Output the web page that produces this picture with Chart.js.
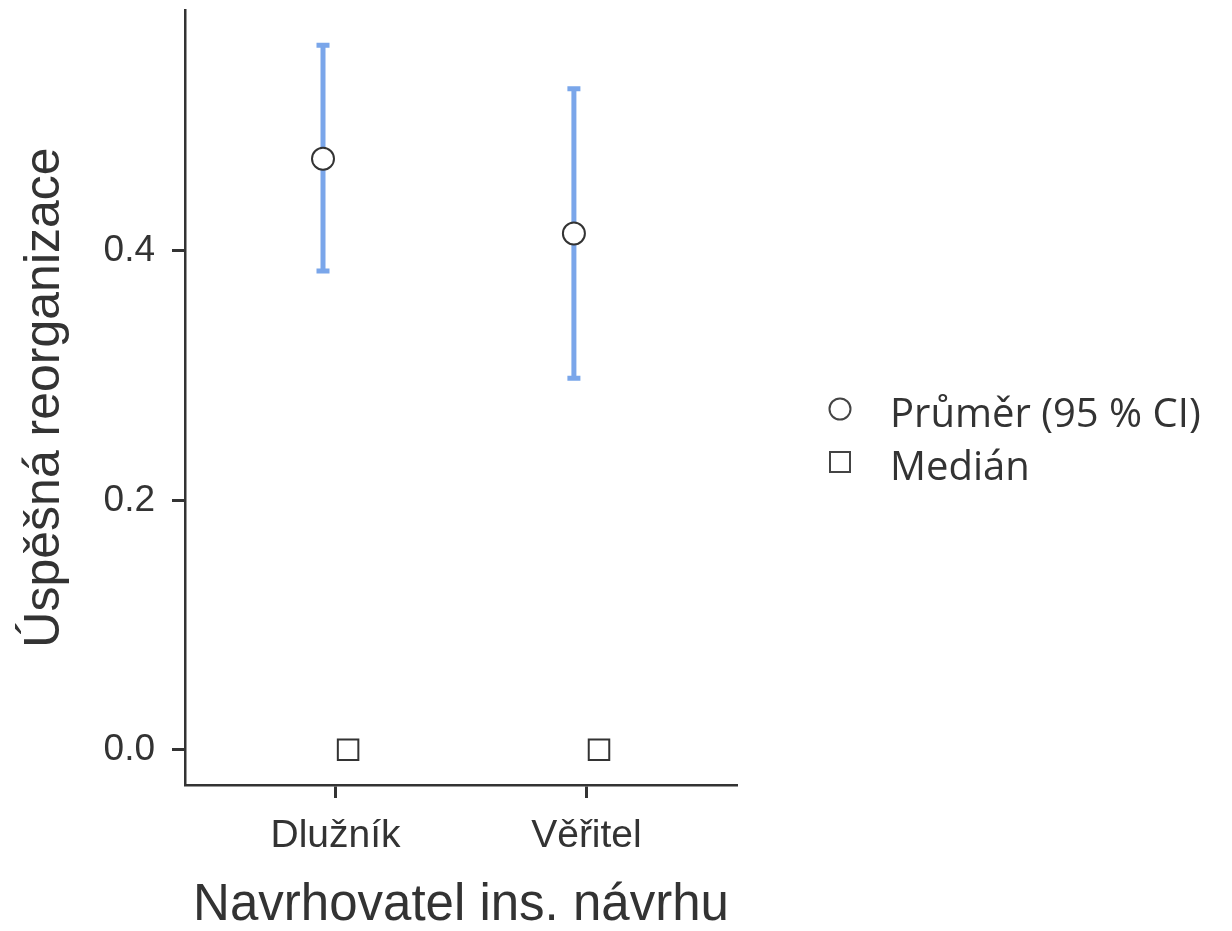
<!DOCTYPE html>
<html>
<head>
<meta charset="utf-8">
<script src="https://cdn.jsdelivr.net/npm/chart.js@4"></script>
<style>
  html, body { margin: 0; padding: 0; background: #fff; }
  #wrap { width: 1232px; height: 931px; }
</style>
</head>
<body>
<div id="wrap"><canvas id="chart" width="1232" height="931"></canvas></div>
<script>
// data
const categories = ['Dlužník', 'Věřitel'];
const means = [0.474, 0.414];
const ciLow = [0.384, 0.298];
const ciHigh = [0.565, 0.530];
const medians = [0, 0];
const yTicks = [0, 0.2, 0.4];

const seriesLabels = ['Průměr (95 % CI)', 'Medián'];
const dodge = 0.05;
const ink = '#333333';
const barColor = '#7aa6ea';

const allVals = [...ciLow, ...ciHigh, ...means, ...medians];
const lo = Math.min(...allVals), hi = Math.max(...allVals);
const pad = (hi - lo) * 0.05;

// error bars under the mean points
const errorBars = {
  id: 'errorBars',
  beforeDatasetsDraw(chart) {
    const { ctx, scales: { x, y } } = chart;
    ctx.save();
    ctx.strokeStyle = barColor;
    ctx.lineWidth = 5;
    ctx.lineCap = 'butt';
    categories.forEach((c, i) => {
      const px = x.getPixelForValue(i - dodge);
      const top = y.getPixelForValue(ciHigh[i]);
      const bot = y.getPixelForValue(ciLow[i]);
      ctx.beginPath();
      ctx.moveTo(px, top); ctx.lineTo(px, bot);
      ctx.moveTo(px - 6.5, top); ctx.lineTo(px + 6.5, top);
      ctx.moveTo(px - 6.5, bot); ctx.lineTo(px + 6.5, bot);
      ctx.stroke();
    });
    ctx.restore();
  }
};

// legend on the right
const sideLegend = {
  id: 'sideLegend',
  afterDraw(chart) {
    const { ctx, chartArea } = chart;
    const mx = chartArea.right + 103;
    const tx = chartArea.right + 153;
    const y0 = 409, step = 53;
    ctx.save();
    ctx.strokeStyle = '#444';
    ctx.lineWidth = 2;
    ctx.fillStyle = '#fff';
    ctx.beginPath();
    ctx.arc(mx, y0, 10.5, 0, Math.PI * 2);
    ctx.fill(); ctx.stroke();
    ctx.beginPath();
    ctx.rect(mx - 10, y0 + step - 10, 20, 20);
    ctx.fill(); ctx.stroke();
    ctx.fillStyle = ink;
    ctx.font = '40px "Open Sans", Lato, sans-serif';
    ctx.textBaseline = 'alphabetic';
    ctx.textAlign = 'left';
    seriesLabels.forEach((t, i) => ctx.fillText(t, tx, y0 + 18 + i * step));
    ctx.restore();
  }
};

const axisFont = '"Liberation Sans", Arial, sans-serif';

new Chart(document.getElementById('chart'), {
  type: 'scatter',
  data: {
    datasets: [
      {
        label: seriesLabels[0],
        data: means.map((m, i) => ({ x: i - dodge, y: m })),
        pointStyle: 'circle',
        pointRadius: 11,
        pointBackgroundColor: '#fff',
        pointBorderColor: ink,
        pointBorderWidth: 2
      },
      {
        label: seriesLabels[1],
        data: medians.map((m, i) => ({ x: i + dodge, y: m })),
        pointStyle: 'rect',
        pointRadius: 14.5,
        pointBackgroundColor: '#fff',
        pointBorderColor: ink,
        pointBorderWidth: 2
      }
    ]
  },
  options: {
    responsive: false,
    animation: false,
    layout: { autoPadding: false, padding: { top: 10, right: 495, left: 0, bottom: 0 } },
    plugins: { legend: { display: false }, tooltip: { enabled: false } },
    scales: {
      x: {
        type: 'linear',
        min: -0.6,
        max: categories.length - 0.4,
        afterBuildTicks: s => { s.ticks = categories.map((c, i) => ({ value: i })); },
        afterFit: s => { s.height = 146; s.paddingLeft = 0; s.paddingRight = 0; },
        grid: { drawOnChartArea: false, drawTicks: true, tickLength: 13, tickWidth: 3, tickColor: ink },
        border: { display: true, color: ink, width: 2.5 },
        ticks: {
          callback: v => categories[v],
          color: ink,
          padding: 15,
          font: { family: axisFont, size: 39 }
        },
        title: {
          display: true,
          text: 'Navrhovatel ins. návrhu',
          color: ink,
          padding: { top: 0, bottom: -6 },
          font: { family: axisFont, size: 51 }
        }
      },
      y: {
        min: lo - pad,
        max: hi + pad,
        afterBuildTicks: s => { s.ticks = yTicks.map(v => ({ value: v })); },
        afterFit: s => { s.width = 185; s.paddingTop = 0; s.paddingBottom = 0; },
        grid: { drawOnChartArea: false, drawTicks: true, tickLength: 13, tickWidth: 3, tickColor: ink },
        border: { display: true, color: ink, width: 2.5 },
        ticks: {
          callback: v => v.toFixed(1),
          color: ink,
          padding: 17,
          font: { family: axisFont, size: 37 }
        },
        title: {
          display: true,
          text: 'Úspěšná reorganizace',
          color: ink,
          padding: { top: 15, bottom: 0 },
          font: { family: axisFont, size: 50 }
        }
      }
    }
  },
  plugins: [errorBars, sideLegend]
});
</script>
</body>
</html>
